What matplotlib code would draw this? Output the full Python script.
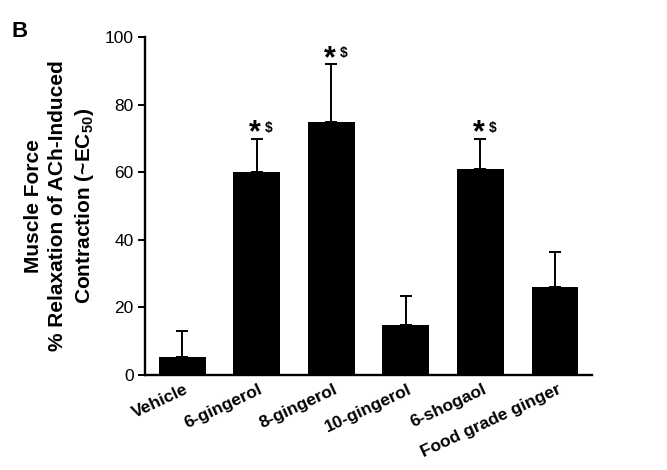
import matplotlib
matplotlib.use("Agg")
import matplotlib.pyplot as plt
import numpy as np

plt.rcParams['font.family'] = ['Liberation Sans', 'DejaVu Sans']
plt.rcParams['mathtext.fontset'] = 'custom'
plt.rcParams['mathtext.rm'] = 'Liberation Sans'
plt.rcParams['mathtext.bf'] = 'Liberation Sans:bold'

categories = ["Vehicle", "6-gingerol", "8-gingerol", "10-gingerol", "6-shogaol", "Food grade ginger"]
means = [5.2, 60.2, 75.0, 14.7, 61.0, 26.0]
errors = [7.8, 9.8, 17.0, 8.6, 9.0, 10.4]
significant = [False, True, True, False, True, False]

fig = plt.figure(figsize=(6.67, 4.70), dpi=100)
ax = fig.add_axes([0.217, 0.202, 0.671, 0.719])

x = np.arange(len(categories))
ax.bar(x, means, width=0.63, color='black', edgecolor='black', linewidth=0, zorder=2)
ax.errorbar(x, means, yerr=[np.zeros(len(errors)), errors], fmt='none',
            ecolor='black', elinewidth=1.4, capsize=4, capthick=1.4, zorder=1)

for xi, m, e, s in zip(x, means, errors, significant):
    if s:
        ax.annotate("*", xy=(xi, m + e), xytext=(-1, -2), textcoords='offset points',
                    ha='center', va='baseline', fontsize=22, fontweight='bold')
        ax.annotate("$", xy=(xi, m + e), xytext=(6, 5), textcoords='offset points',
                    ha='left', va='baseline', fontsize=10, fontweight='bold')

ax.set_xlim(-0.5, len(categories) - 0.5)
ax.set_ylim(0, 100)
ax.set_yticks([0, 20, 40, 60, 80, 100])
ax.tick_params(axis='y', labelsize=12.5, length=5, width=1.4, direction='out', pad=3)
ax.tick_params(axis='x', length=0, pad=5)
ax.set_xticks(x)
ax.set_xticklabels(categories, rotation=25, ha='right', va='top', rotation_mode='anchor',
                   fontsize=12.5, fontweight='bold')
import matplotlib.transforms as mtransforms
offset = mtransforms.ScaledTranslation(2/100, 0, fig.dpi_scale_trans)
for lbl in ax.get_xticklabels():
    lbl.set_transform(lbl.get_transform() + offset)

for sp in ['top', 'right']:
    ax.spines[sp].set_visible(False)
for sp in ['left', 'bottom']:
    ax.spines[sp].set_linewidth(1.7)

ax.set_ylabel("Muscle Force\n% Relaxation of ACh-Induced\nContraction (~EC$_{\\mathbf{50}}$)",
              fontsize=15, fontweight='bold', linespacing=1.35)
ax.yaxis.set_label_coords(-0.108, 0.5)

fig.text(12/667, 1 - 37/470, "B", fontsize=16, fontweight='bold', ha='left', va='baseline')

fig.savefig("out.png", dpi=100)
